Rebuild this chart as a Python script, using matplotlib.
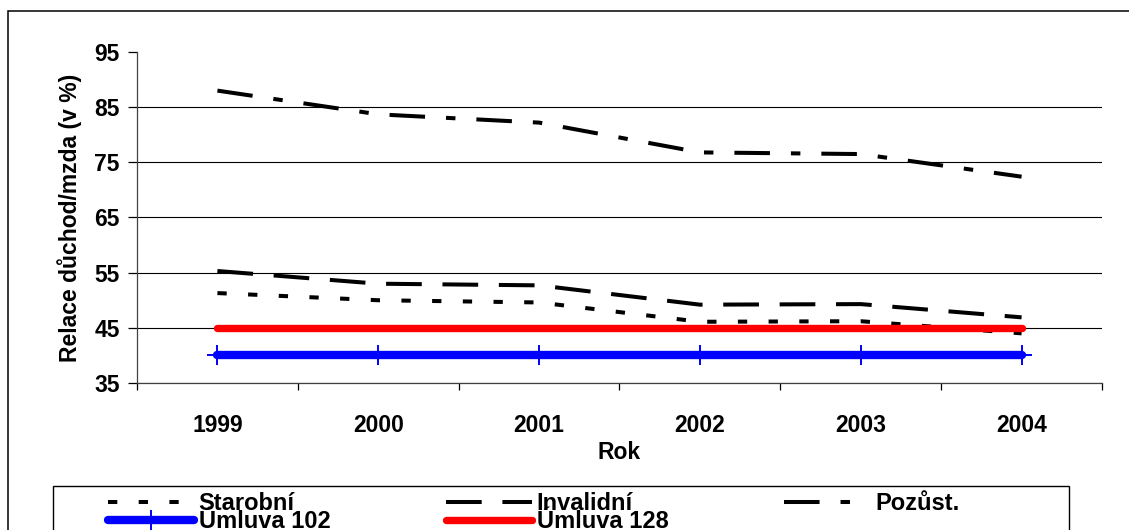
import matplotlib

matplotlib.use("Agg")

import matplotlib.pyplot as plt
from matplotlib.patches import Rectangle

years = ["1999", "2000", "2001", "2002", "2003", "2004"]
starobni = [51.3, 50.0, 49.6, 46.1, 46.2, 44.0]
invalidni = [55.3, 53.0, 52.7, 49.2, 49.3, 46.9]
pozust = [88.0, 83.7, 82.2, 76.8, 76.5, 72.4]
umluva_102 = [40, 40, 40, 40, 40, 40]
umluva_128 = [45, 45, 45, 45, 45, 45]

y_ticks = [35, 45, 55, 65, 75, 85, 95]

plt.rcParams["font.family"] = ["Liberation Sans", "DejaVu Sans"]
plt.rcParams["font.weight"] = "bold"
plt.rcParams["lines.scale_dashes"] = False

W, H = 1129, 530
fig = plt.figure(figsize=(W / 100, H / 100), dpi=100)
fig.patch.set_facecolor("white")

# outer chart frame
fig.patches.append(Rectangle((8 / W, -0.1), 1.2, 1 - 11 / H + 0.1,
                             transform=fig.transFigure, fill=False,
                             edgecolor="black", linewidth=1.1))

ax = fig.add_axes([137 / W, 1 - 383 / H, 965 / W, 331 / H])
x = list(range(len(years)))

black = dict(color="black", linewidth=2.9, dash_capstyle="butt")
ax.plot(x, starobni, dashes=(6.7, 15.4), label="Starobní", **black)
ax.plot(x, invalidni, dashes=(25.7, 14.9), label="Invalidní", **black)
ax.plot(x, pozust, dashes=(25.6, 15.1, 6.8, 15.1), label="Pozůst.", **black)
ax.plot(x, umluva_102, color="#0000ff", linewidth=6.0, solid_capstyle="round",
        marker="+", markersize=15, markeredgewidth=1.4, label="Úmluva 102")
ax.plot(x, umluva_128, color="#ff0000", linewidth=5.3, solid_capstyle="round",
        label="Úmluva 128")

ax.set_xlim(-0.5, len(years) - 0.5)
ax.set_ylim(35, 95)
ax.set_yticks(y_ticks)
ax.set_xticks([i - 0.5 for i in range(len(years) + 1)])
ax.set_xticklabels([])
ax.set_xticks(x, minor=True)
ax.set_xticklabels(years, minor=True)
ax.tick_params(axis="x", which="major", direction="out", length=5, width=0.9)
ax.tick_params(axis="x", which="minor", length=0, pad=22, labelsize=16.5)
ax.tick_params(axis="y", direction="out", length=6.5, width=0.9, pad=6, labelsize=16.5)

ax.grid(axis="y", color="black", linewidth=0.8)
ax.get_ygridlines()[-1].set_visible(False)
ax.set_axisbelow(True)
for side in ("top", "right"):
    ax.spines[side].set_visible(False)
for side in ("left", "bottom"):
    ax.spines[side].set_linewidth(0.9)
    ax.spines[side].set_color("#404040")

ax.set_ylabel("Relace důchod/mzda (v %)", fontsize=16.5, fontweight="bold", labelpad=9)
ax.set_xlabel("Rok", fontsize=16.5, fontweight="bold", labelpad=3)

# legend box
fig.patches.append(Rectangle((53 / W, -0.1), (1069 - 53) / W, 0.1 + 1 - 486 / H,
                             transform=fig.transFigure, fill=False,
                             edgecolor="black", linewidth=1.0))
handles, labels = ax.get_legend_handles_labels()
order = [0, 3, 1, 4, 2]
fig.legend([handles[i] for i in order], [labels[i] for i in order],
           loc="upper left", bbox_to_anchor=(108 / W, 1 - 492 / H),
           ncol=3, frameon=False, fontsize=17, handlelength=3.64,
           handletextpad=0.2, columnspacing=4.9, labelspacing=-0.22,
           borderpad=0, borderaxespad=0)

fig.savefig("out.png", dpi=100)
